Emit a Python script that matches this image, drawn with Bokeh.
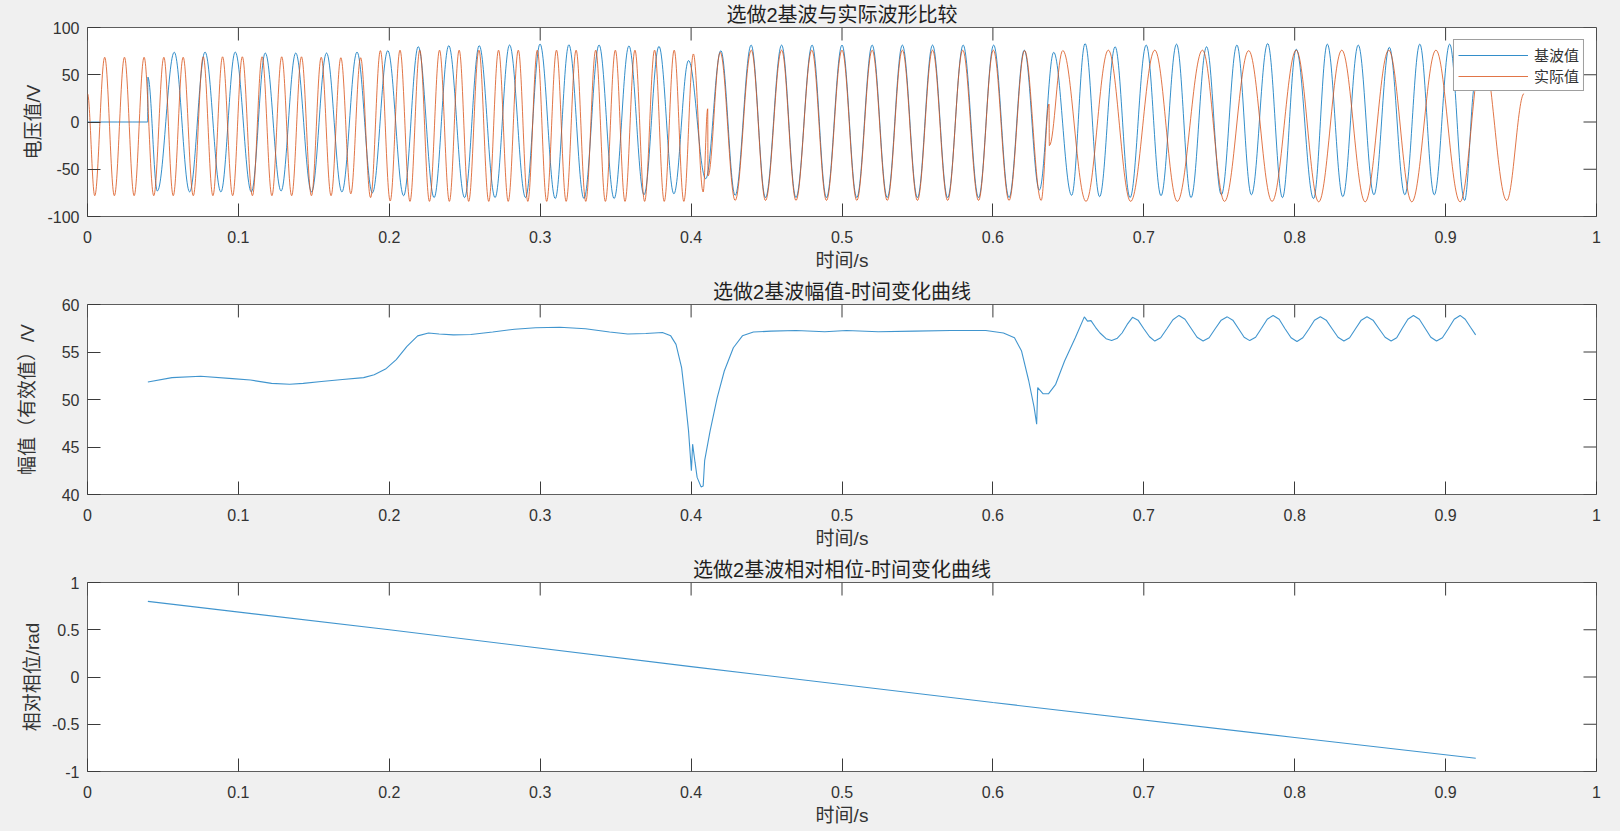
import numpy as np
from bokeh.plotting import figure
from bokeh.models import (Range1d, FixedTicker, Legend, LegendItem,
                          ColumnDataSource, CustomJSTickFormatter)
from bokeh.layouts import column
from bokeh.embed import file_html
from bokeh.resources import INLINE

# ---------------- data ----------------
x_ticks = [0, 0.1, 0.2, 0.3, 0.4, 0.5, 0.6, 0.7, 0.8, 0.9, 1]
y1_ticks = [-100, -50, 0, 50, 100]
y2_ticks = [40, 45, 50, 55, 60]
y3_ticks = [-1, -0.5, 0, 0.5, 1]

titles = ["选做2基波与实际波形比较", "选做2基波幅值-时间变化曲线", "选做2基波相对相位-时间变化曲线"]
ylabels = ["电压值/V", "幅值（有效值）/V", "相对相位/rad"]
xlabel = "时间/s"
legend_labels = ["基波值", "实际值"]

# fundamental (blue) waveform: turning points (time s, value V)
fund_t = [0.0, 0.0399, 0.0400, 0.0463,
          0.0575, 0.0677, 0.0779, 0.0884, 0.0979, 0.1086, 0.1178, 0.1283,
          0.1380, 0.1485, 0.1584, 0.1686, 0.1786, 0.1888, 0.1990, 0.2095,
          0.2192, 0.2297, 0.2394, 0.2499, 0.2596, 0.2701, 0.2797, 0.2903,
          0.2999, 0.3100, 0.3190, 0.3290, 0.3390, 0.3490, 0.3588, 0.3688,
          0.3787, 0.3886, 0.3983, 0.4097, 0.4197, 0.4292, 0.4398, 0.4493,
          0.4600, 0.4695, 0.4802, 0.4897, 0.5000, 0.5098, 0.5200, 0.5300,
          0.5400, 0.5500, 0.5600, 0.5700, 0.5803, 0.5905, 0.6005, 0.6107,
          0.6208, 0.6308, 0.6403, 0.6522, 0.6611, 0.6707, 0.6810, 0.6909,
          0.7016, 0.7114, 0.7217, 0.7313, 0.7416, 0.7514, 0.7617, 0.7713,
          0.7821, 0.7919, 0.8010, 0.8125, 0.8216, 0.8319, 0.8421, 0.8525,
          0.8627, 0.8730, 0.8829, 0.8925, 0.9027, 0.9126, 0.9195]
fund_v = [0, 0, 47.5, -73,
          73.8, -74, 74, -74, 74, -74, 73, -73,
          73, -74, 73, -74, 74, -75, 75.5, -78,
          79.7, -80, 80.8, -80, 80.8, -80, 81.5, -80,
          82.5, -81, 81.7, -81, 81.5, -81, 80.5, -77,
          80, -76, 65, -60, 75.5, -77.6, 81.4, -80,
          81.4, -80, 81.4, -80, 81.4, -80, 81.4, -80,
          81.4, -80, 81.4, -80, 81.4, -80, 81.4, -80,
          76, -72, 73.7, -77.6, 83, -79, 79.6, -80,
          81.4, -78, 82.4, -80, 79.6, -77, 81.4, -77,
          83, -80, 77, -81, 82.4, -79, 81.4, -77,
          79, -77, 82.4, -77, 82.4, -83, 40]

# actual (orange) waveform: turning points (time s, value V)
act_t = [0.0, 0.0048,
         0.0114, 0.0178, 0.0245, 0.0309, 0.0375, 0.0439, 0.0506, 0.0568,
         0.0634, 0.0701, 0.0767, 0.0831, 0.0895, 0.0962, 0.1026, 0.1093,
         0.1157, 0.1222, 0.1287, 0.1353, 0.1418, 0.1484, 0.1549, 0.1614,
         0.1679, 0.1745, 0.1810, 0.1876, 0.1941, 0.2006, 0.2071, 0.2137,
         0.2202, 0.2266, 0.2333, 0.2398, 0.2463, 0.2526, 0.2594, 0.2659,
         0.2724, 0.2788, 0.2855, 0.2918, 0.2981, 0.3043, 0.3108, 0.3172,
         0.3238, 0.3302, 0.3368, 0.3432, 0.3498, 0.3562, 0.3628, 0.3692,
         0.3758, 0.3822, 0.3888, 0.3952, 0.4015, 0.4080, 0.4110, 0.4112,
         0.4193, 0.4292, 0.4399, 0.4493, 0.4600, 0.4695, 0.4800, 0.4897,
         0.5000, 0.5098, 0.5200, 0.5300, 0.5400, 0.5500, 0.5600, 0.5700,
         0.5800, 0.5905, 0.6003, 0.6107, 0.6210, 0.6320, 0.6372, 0.6374,
         0.6463, 0.6617, 0.6765, 0.6913, 0.7073, 0.7222, 0.7389, 0.7535,
         0.7695, 0.7850, 0.8010, 0.8159, 0.8312, 0.8467, 0.8623, 0.8776,
         0.8936, 0.9096, 0.9245, 0.9405, 0.9520]
act_v = [30, -78,
         68.5, -78, 68.5, -78, 68.5, -78, 68.5, -78,
         68.5, -78, 69, -78, 69, -78, 69, -78,
         69, -78, 69, -78, 69, -78, 68.5, -78,
         68, -76, 68, -80, 75.5, -83.6, 76, -84,
         76, -84, 76, -84, 76, -84, 76, -84,
         76, -84, 76, -84, 76, -84, 76, -84,
         76, -84, 76, -84, 76, -84, 76, -84,
         76, -84, 76, -84, 72, -74, 14, -57,
         73.7, -83, 76, -83, 76, -83, 76, -83,
         76, -83, 76, -83, 76, -83, 76, -83,
         76, -83, 76, -83, 75.5, -83, 19, -25,
         75.6, -84, 76, -84, 76, -84, 76, -84,
         75.5, -84, 76, -84.5, 76, -84.5, 76, -84.5,
         76, -84.5, 76, -83, 30]

# amplitude (RMS) of fundamental
amp_t = [0.040, 0.056, 0.075, 0.096, 0.108, 0.122, 0.134, 0.143, 0.155, 0.169,
         0.183, 0.190, 0.1975, 0.2046, 0.2117, 0.2188, 0.226, 0.233, 0.2425, 0.254,
         0.2685, 0.283, 0.297, 0.313, 0.330, 0.346, 0.358, 0.370, 0.381, 0.3865,
         0.390, 0.3937, 0.396, 0.3983, 0.4002, 0.401, 0.4026, 0.404, 0.4066, 0.408,
         0.409, 0.4126, 0.4173, 0.422, 0.428, 0.434, 0.4413, 0.453, 0.4696, 0.4886,
         0.503, 0.524, 0.548, 0.572, 0.5953, 0.607, 0.6143, 0.619, 0.6237, 0.6273,
         0.629, 0.6297, 0.6333, 0.6368, 0.6416, 0.6475, 0.6546, 0.6606, 0.6627, 0.6650,
         0.6680, 0.6710, 0.6750, 0.6787, 0.6825, 0.6856, 0.6890, 0.6925, 0.6962, 0.7000,
         0.7038, 0.7073, 0.7112, 0.7153, 0.7193, 0.7233, 0.7273, 0.7313, 0.7353, 0.7393,
         0.7433, 0.7473, 0.7513, 0.7553, 0.7590, 0.7628, 0.7665, 0.7702, 0.7741, 0.7780,
         0.7818, 0.7857, 0.7897, 0.7936, 0.7976, 0.8015, 0.8054, 0.8093, 0.8131, 0.8170,
         0.8209, 0.8248, 0.8287, 0.8326, 0.8364, 0.8403, 0.8441, 0.8479, 0.8519, 0.8559,
         0.8599, 0.8639, 0.8676, 0.8713, 0.8750, 0.8787, 0.8826, 0.8864, 0.8902, 0.8940,
         0.8979, 0.9018, 0.9057, 0.9096, 0.9130, 0.9165, 0.9199]
amp_v = [51.85, 52.3, 52.45, 52.2, 52.05, 51.7, 51.6, 51.7, 51.9, 52.1,
         52.3, 52.6, 53.2, 54.2, 55.6, 56.7, 57.0, 56.9, 56.8, 56.85,
         57.1, 57.4, 57.55, 57.6, 57.45, 57.1, 56.9, 56.95, 57.05, 56.7,
         55.8, 53.35, 50.2, 46.7, 42.5, 45.3, 43.4, 41.8, 40.8, 40.9,
         43.6, 46.7, 50.2, 53.0, 55.45, 56.7, 57.1, 57.2, 57.27, 57.13,
         57.27, 57.13, 57.2, 57.27, 57.27, 57.0, 56.5, 55.1, 52.0, 49.2,
         47.4, 51.25, 50.6, 50.6, 51.6, 54.05, 56.5, 58.7, 58.25, 58.3,
         57.6, 57.0, 56.4, 56.2, 56.45, 57.0, 57.9, 58.65, 58.35, 57.45,
         56.6, 56.15, 56.5, 57.45, 58.4, 58.85, 58.45, 57.5, 56.55, 56.15,
         56.5, 57.45, 58.35, 58.7, 58.35, 57.45, 56.55, 56.2, 56.55, 57.5,
         58.45, 58.85, 58.45, 57.45, 56.5, 56.1, 56.5, 57.4, 58.35, 58.7,
         58.35, 57.45, 56.55, 56.15, 56.5, 57.45, 58.35, 58.7, 58.35, 57.45,
         56.55, 56.15, 56.5, 57.5, 58.45, 58.85, 58.45, 57.5, 56.55, 56.15,
         56.5, 57.45, 58.45, 58.85, 58.45, 57.6, 56.8]

# relative phase of fundamental
phase_t = [0.04, 0.2, 0.4, 0.6, 0.8, 0.92]
phase_v = [0.80, 0.50, 0.11, -0.27, -0.64, -0.86]

assert len(fund_t) == len(fund_v)
assert len(act_t) == len(act_v)
assert len(amp_t) == len(amp_v)

# ---------------- styling ----------------
BLUE = "#0072BD"
ORANGE = "#D95319"
CJK = "Noto Sans CJK SC"
MIX = "Liberation Sans, Noto Sans CJK SC"   # Latin glyphs Helvetica-like, CJK from Noto
LAT = "Liberation Sans"
TXT = "#333333"
AX = "#5e5e5e"
TK = "#3a3a3a"
FMT = CustomJSTickFormatter(code="return tick.toString();")
TICK = 13            # tick length, px
BL, BR = 87, 24      # left / right borders, px
FRAME_W = 1620 - BL - BR


def bezier_source(t, v):
    """Smooth wave segments between successive turning points."""
    t = np.asarray(t, dtype=float)
    v = np.asarray(v, dtype=float)
    x0, x1 = t[:-1], t[1:]
    y0, y1 = v[:-1], v[1:]
    k = 0.3642 * (x1 - x0)
    return ColumnDataSource(dict(x0=x0, y0=y0, x1=x1, y1=y1,
                                 cx0=x0 + k, cy0=y0, cx1=x1 - k, cy1=y1))


def make_fig(height, top, bottom, yr, yticks, title, ylabel, ylab_standoff):
    p = figure(width=1620, height=height, output_backend="svg", toolbar_location=None,
               x_range=Range1d(0, 1), y_range=Range1d(*yr),
               min_border_left=BL, min_border_right=BR,
               min_border_top=top, min_border_bottom=bottom,
               background_fill_color="white", border_fill_color="#f0f0f0",
               outline_line_color=AX, outline_line_width=1)
    p.grid.visible = False
    p.title.text = title
    p.title.align = "center"
    p.title.text_font = MIX
    p.title.text_font_size = "20px"
    p.title.text_font_style = "normal"
    p.title.text_color = "#1f1f1f"
    p.title.standoff = 3

    xa = p.xaxis[0]
    xa.ticker = FixedTicker(ticks=x_ticks)
    xa.formatter = FMT
    xa.axis_label = xlabel
    ya = p.yaxis[0]
    ya.ticker = FixedTicker(ticks=yticks)
    ya.formatter = FMT
    ya.axis_label = ylabel
    for ax in (xa, ya):
        ax.axis_line_color = None
        ax.major_tick_in = TICK
        ax.major_tick_out = 0
        ax.minor_tick_in = 0
        ax.minor_tick_out = 0
        ax.major_tick_line_color = TK
        ax.major_tick_line_width = 1
        ax.major_label_text_font = LAT
        ax.major_label_text_font_size = "16px"
        ax.major_label_text_color = TXT
        ax.axis_label_text_font = MIX
        ax.axis_label_text_font_size = "19px"
        ax.axis_label_text_font_style = "normal"
        ax.axis_label_text_color = TXT
    xa.major_label_standoff = 14
    xa.axis_label_standoff = 4
    ya.major_label_standoff = 8
    ya.axis_label_standoff = ylab_standoff

    # box ticks along the top and right edges of the frame
    frame_h = height - top - bottom
    dy = TICK * (yr[1] - yr[0]) / frame_h
    dx = TICK / FRAME_W
    n = len(x_ticks)
    p.segment(x0=x_ticks, y0=[yr[1]] * n, x1=x_ticks, y1=[yr[1] - dy] * n,
              line_color=TK, line_width=1)
    m = len(yticks)
    p.segment(x0=[1] * m, y0=yticks, x1=[1 - dx] * m, y1=yticks,
              line_color=TK, line_width=1)
    return p


# ---- top: waveform comparison ----
p1 = make_fig(277, 27, 61, (-100, 100), y1_ticks, titles[0], ylabels[0], 0)
p1.bezier(x0="x0", y0="y0", x1="x1", y1="y1", cx0="cx0", cy0="cy0", cx1="cx1", cy1="cy1",
          source=bezier_source(fund_t, fund_v), line_color=BLUE, line_width=1.0, line_alpha=0.8)
p1.bezier(x0="x0", y0="y0", x1="x1", y1="y1", cx0="cx0", cy0="cy0", cx1="cx1", cy1="cy1",
          source=bezier_source(act_t, act_v), line_color=ORANGE, line_width=1.0, line_alpha=0.8)
leg_b = p1.line(x=[np.nan], y=[np.nan], line_color=BLUE, line_width=1.0, line_alpha=0.8)
leg_o = p1.line(x=[np.nan], y=[np.nan], line_color=ORANGE, line_width=1.0, line_alpha=0.8)
legend = Legend(items=[LegendItem(label=legend_labels[0], renderers=[leg_b]),
                       LegendItem(label=legend_labels[1], renderers=[leg_o])],
                location="top_right", margin=12, padding=4, spacing=0,
                glyph_width=70, glyph_height=20, label_height=20, label_standoff=6,
                label_text_font=CJK, label_text_font_size="15px", label_text_color=TXT,
                border_line_color="#404040", border_line_width=1,
                background_fill_color="white", background_fill_alpha=1.0)
p1.add_layout(legend)

# ---- middle: amplitude ----
p2 = make_fig(278, 26, 61, (40, 60), y2_ticks, titles[1], ylabels[1], 21)
p2.line(amp_t, amp_v, line_color=BLUE, line_width=1.1, line_alpha=0.75)

# ---- bottom: phase ----
p3 = make_fig(276, 27, 60, (-1, 1), y3_ticks, titles[2], ylabels[2], 6)
p3.line(phase_t, phase_v, line_color=BLUE, line_width=1.1, line_alpha=0.75)

layout = column(p1, p2, p3, spacing=0)

html = file_html(layout, INLINE, title="选做2基波")
html = html.replace("<head>", "<head><style>html,body{margin:0;padding:0;background:#f0f0f0;overflow:hidden}</style>", 1)
open("out.html", "w").write(html)
